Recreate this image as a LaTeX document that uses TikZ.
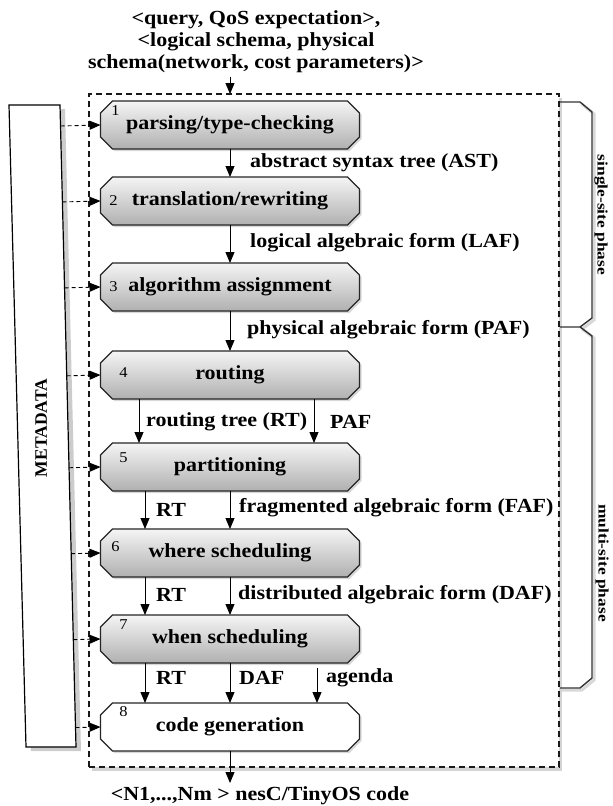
\documentclass[tikz,border=0pt]{standalone}
\usepackage{fontspec}
\setmainfont{Liberation Serif}[FakeStretch=1.1]
\newfontfamily\sidefont{Liberation Serif}[FakeStretch=1.2]
\newfontfamily\metafont{Liberation Serif}
\usetikzlibrary{arrows.meta,shadows,calc}
\pgfdeclarelayer{back}
\pgfdeclarelayer{mid}
\pgfsetlayers{back,mid,main}

\begin{document}
\begin{tikzpicture}[x=1pt, y=-1pt,
    stage/.style={minimum width=259pt, minimum height=48pt, inner sep=0pt, outer sep=0pt,
      font=\fontsize{20}{22}\selectfont\bfseries},
    stageshape/.style={draw=black!85, line width=1.1pt, top color=gray!8, bottom color=gray!62,
      line join=miter, drop shadow={opacity=.3, shadow xshift=2pt, shadow yshift=-2pt}},
    lastshape/.style={stageshape, top color=white, bottom color=white},
    num/.style={font=\fontsize{15}{15}\selectfont, inner sep=0pt},
    lbl/.style={font=\fontsize{20}{22}\selectfont\bfseries, inner sep=0pt, anchor=west},
    arr/.style={line width=.9pt, -{Triangle[length=11pt,width=9pt]}},
    mdarr/.style={line width=.9pt, dash pattern=on 4pt off 3pt, -{Triangle[length=11pt,width=9pt]}},
    frame/.style={draw=black!90, line width=1.1pt, dash pattern=on 6pt off 4pt, fill=white,
      minimum width=470pt, minimum height=673pt, inner sep=0pt, outer sep=0pt,
      drop shadow={opacity=.35, shadow xshift=3pt, shadow yshift=-4pt}},
    brace/.style={line width=1.4pt, draw=black!80, line join=miter},
    braceshadow/.style={line width=3pt, draw=gray!60, opacity=.5},
    side/.style={rotate=-90, font=\sidefont\fontsize{14.5}{15}\selectfont\bfseries}]
      \useasboundingbox (0,0) rectangle (613,806);

      \begin{pgfonlayer}{back}
      \node[frame] (frame) at (324,430.5) {};
      \end{pgfonlayer}

      \coordinate (mdtl) at (9,105);
      \coordinate (mdtr) at (60,105);
      \coordinate (mdbr) at (76,747);
      \coordinate (mdbl) at (26,747);
      \draw[line width=1.2pt, fill=white, drop shadow={opacity=.4, shadow xshift=5pt, shadow yshift=-4pt}]
        (mdtl) -- (mdtr) -- (mdbr) -- (mdbl) -- cycle;
      \node[rotate=90, font=\metafont\fontsize{17.5}{18}\selectfont\bfseries] (meta) at (41,428) {METADATA};

      \node[align=center, font=\fontsize{20}{22}\selectfont\bfseries] (query) at (256,42)
        {<query, QoS expectation>,\\<logical schema, physical\\schema(network, cost parameters)>};

      \node[stage] (b1) at (230,125) {parsing/type-checking};
      \node[stage] (b2) at (230,201) {translation/rewriting};
      \node[stage] (b3) at (230,287) {algorithm assignment};
      \node[stage] (b4) at (230,375) {routing};
      \node[stage] (b5) at (230,467) {partitioning};
      \node[stage] (b6) at (230,553) {where scheduling};
      \node[stage] (b7) at (230,639) {when scheduling};
      \node[stage] (b8) at (230,727) {code generation};

      \begin{pgfonlayer}{mid}
      \foreach \i in {1,...,8}{
        \ifnum\i<8 \def\shapestyle{stageshape}\else \def\shapestyle{lastshape}\fi
        \path[\shapestyle] ([xshift=12pt]b\i.north west) -- ([xshift=-12pt]b\i.north east)
          -- ([yshift=-12pt]b\i.north east) -- ([yshift=12pt]b\i.south east)
          -- ([xshift=-12pt]b\i.south east) -- ([xshift=12pt]b\i.south west)
          -- ([yshift=12pt]b\i.south west) -- ([yshift=-12pt]b\i.north west) -- cycle;
      }
      \end{pgfonlayer}

      \node[num] (n1) at ([shift={(15,-14)}]b1.west) {1};
      \node[num] (n2) at ([shift={(13,0)}]b2.west) {2};
      \node[num] (n3) at ([shift={(13,0)}]b3.west) {3};
      \node[num] (n4) at ([shift={(23,-2)}]b4.west) {4};
      \node[num] (n5) at ([shift={(23,-9)}]b5.west) {5};
      \node[num] (n6) at ([shift={(15,-6)}]b6.west) {6};
      \node[num] (n7) at ([shift={(23,-14)}]b7.west) {7};
      \node[num] (n8) at ([shift={(23,-15)}]b8.west) {8};

      \draw[arr] (query.south -| b1.north) to (frame.north -| b1.north);
      \draw[arr] (b1.south) to (b2.north);
      \draw[arr] (b2.south) to (b3.north);
      \draw[arr] (b3.south) to (b4.north);
      \draw[arr] ([xshift=-91pt]b4.south) to ([xshift=-91pt]b5.north);
      \draw[arr] ([xshift=84pt]b4.south) to ([xshift=84pt]b5.north);
      \draw[arr] ([xshift=-85pt]b5.south) to ([xshift=-85pt]b6.north);
      \draw[arr] (b5.south) to (b6.north);
      \draw[arr] ([xshift=-85pt]b6.south) to ([xshift=-85pt]b7.north);
      \draw[arr] (b6.south) to (b7.north);
      \draw[arr] ([xshift=-85pt]b7.south) to ([xshift=-85pt]b8.north);
      \draw[arr] (b7.south) to (b8.north);
      \coordinate (agendastart) at ([shift={(87,5)}]b7.south);
      \draw[arr] (agendastart) to (agendastart |- b8.north);

      \node[lbl] (l1) at (250,163) {abstract syntax tree (AST)};
      \node[lbl] (l2) at (250,243) {logical algebraic form (LAF)};
      \node[lbl] (l3) at (247,330) {physical algebraic form (PAF)};
      \node[lbl] (l4) at (146,422) {routing tree (RT)};
      \node[lbl] (l5) at (330,422) {PAF};
      \node[lbl] (l6) at (156,510) {RT};
      \node[lbl] (l7) at (239,508) {fragmented algebraic form (FAF)};
      \node[lbl] (l8) at (156,595) {RT};
      \node[lbl] (l9) at (238,595) {distributed algebraic form (DAF)};
      \node[lbl] (l10) at (156,678) {RT};
      \node[lbl] (l11) at (239,678) {DAF};
      \node[lbl] (l12) at (326,678) {agenda};

      \foreach \i in {1,...,8}{
        \coordinate (m\i) at ($(mdtr)!(b\i.west)!(mdbr)$);
        \draw[mdarr] (m\i) to (b\i.west);
      }

      \draw[arr] (b8.south) to ++(0,32);
      \node[lbl, anchor=center] (code) at (260,796) {<N1,...,Nm > nesC/TinyOS code};

      \draw[braceshadow] (582,104) -- (594,114) -- (594,320) -- (582,329);
      \draw[braceshadow] (582,329) -- (594,338) -- (594,680) -- (582,690) -- (562,690);
      \draw[brace] (560,102) -- (580,102) -- (592,112) -- (592,318) -- (580,327) -- (560,327);
      \draw[brace] (580,327) -- (592,336) -- (592,678) -- (580,688) -- (560,688);
      \node[side] (single) at (601,215) {single-site phase};
      \node[side] (multi) at (602,563) {multi-site phase};
    \end{tikzpicture}
\end{document}
